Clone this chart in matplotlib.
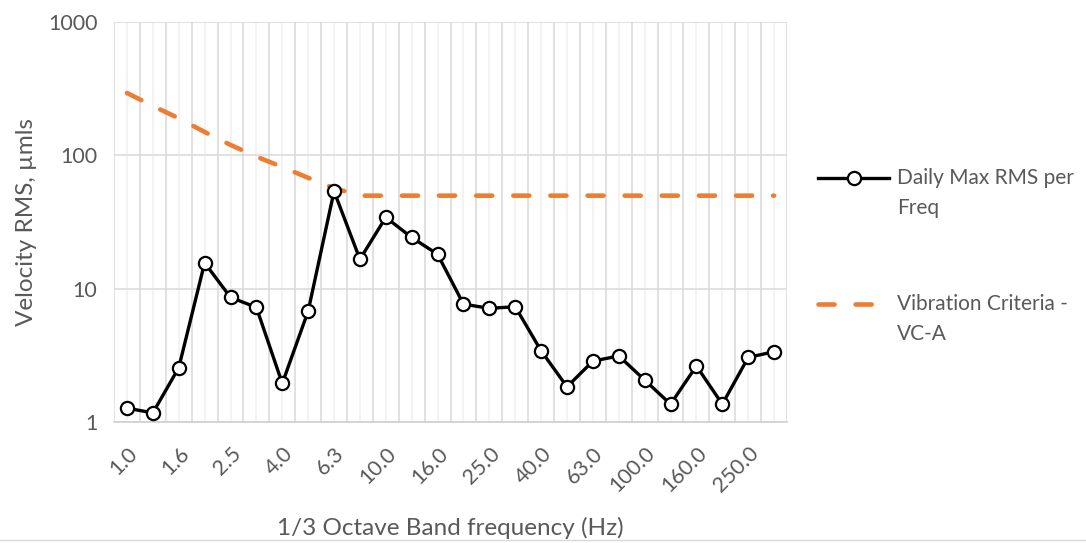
import matplotlib
matplotlib.use("Agg")
import matplotlib.pyplot as plt
from matplotlib.ticker import FixedLocator, NullLocator, FixedFormatter
from matplotlib.lines import Line2D
import numpy as np

plt.rcParams['font.family'] = ['Lato', 'DejaVu Sans']

freqs = ["1.0", "1.25", "1.6", "2.0", "2.5", "3.15", "4.0", "5.0", "6.3", "8.0",
         "10.0", "12.5", "16.0", "20.0", "25.0", "31.5", "40.0", "50.0", "63.0", "80.0",
         "100.0", "125.0", "160.0", "200.0", "250.0", "315.0"]
daily_max = [1.28, 1.18, 2.57, 15.7, 8.65, 7.28, 1.96, 6.83, 54, 16.7,
             34.4, 24.3, 18.2, 7.7, 7.16, 7.36, 3.44, 1.85, 2.88, 3.15,
             2.08, 1.37, 2.65, 1.37, 3.07, 3.39]
vc_a = [294, 235, 190, 150, 120, 98, 82, 68, 57, 50,
        50, 50, 50, 50, 50, 50, 50, 50, 50, 50,
        50, 50, 50, 50, 50, 50]
series_labels = ['Daily Max RMS per\nFreq', 'Vibration Criteria -\nVC-A']

text_col = '#595959'
grid_major = '#d9d9d9'
grid_minor = '#f0f0f0'

W, H = 1086, 543
fig = plt.figure(figsize=(W / 100, H / 100), dpi=100)
ax = fig.add_axes([0.105, 0.222, 0.6197, 0.7375])

daily_style = dict(color='black', lw=2.4, marker='o', markersize=9.5,
                   markerfacecolor='white', markeredgecolor='black', markeredgewidth=1.6)
vc_style = dict(color='#ed7d31', lw=3.3, dashes=(3.5, 4.6), dash_capstyle='round')

x = np.arange(len(freqs))
ax.plot(x, vc_a, zorder=3, **vc_style)
ax.plot(x, daily_max, zorder=4, **daily_style)

ax.set_yscale('log')
ax.set_ylim(1, 1000)
ax.set_xlim(-0.5, len(freqs) - 0.5)

ax.yaxis.set_major_locator(FixedLocator([1, 10, 100, 1000]))
ax.yaxis.set_major_formatter(FixedFormatter(['1', '10', '100', '1000']))
ax.yaxis.set_minor_locator(NullLocator())

ax.set_xticks(x)
ax.set_xticklabels([f if i % 2 == 0 else '' for i, f in enumerate(freqs)],
                   rotation=45, ha='right', va='top', rotation_mode='anchor')
ax.set_xticks(np.arange(len(freqs) + 1) - 0.5, minor=True)

ax.grid(which='minor', axis='x', color=grid_major, lw=1.1, zorder=0)
ax.grid(which='major', axis='x', color=grid_minor, lw=1.1, zorder=0)
ax.grid(which='major', axis='y', color=grid_major, lw=1.1, zorder=0)
ax.set_axisbelow(True)

for s in ['top', 'right', 'left']:
    ax.spines[s].set_visible(False)
ax.spines['bottom'].set_color('#d0d0d0')
ax.spines['bottom'].set_linewidth(1.2)

ax.tick_params(axis='both', which='both', length=0, labelsize=15.5, colors=text_col)
ax.tick_params(axis='y', pad=12)
ax.tick_params(axis='x', pad=15)

ax.set_xlabel('1/3 Octave Band frequency (Hz)', fontsize=17.5, color=text_col, labelpad=15)
ax.set_ylabel('Velocity RMS, µmls', fontsize=17.5, color=text_col, labelpad=8)

# legend (handle aligned with the first text line, as in the reference)
def fx(px):
    return px / W

def fy(py):
    return 1 - py / H

hx0, hx1, tx = 818, 889, 897
for (hy, style, label) in [(178, daily_style, series_labels[0]),
                           (304, vc_style, series_labels[1])]:
    st = dict(style)
    marker = st.pop('marker', None)
    mkw = {k: st.pop(k) for k in list(st) if k.startswith('marker')}
    fig.add_artist(Line2D([fx(hx0), fx(hx1)], [fy(hy), fy(hy)], transform=fig.transFigure, **st))
    if marker:
        fig.add_artist(Line2D([fx((hx0 + hx1) / 2)], [fy(hy)], transform=fig.transFigure,
                              marker=marker, linestyle='none', **mkw))
    fig.text(fx(tx), fy(hy - 10), label, fontsize=15, color=text_col, va='top', ha='left',
             linespacing=1.6)

fig.add_artist(Line2D([0, 1], [0.006, 0.006], transform=fig.transFigure,
                      color='#d9d9d9', lw=1))

fig.savefig('out.png', dpi=100)
